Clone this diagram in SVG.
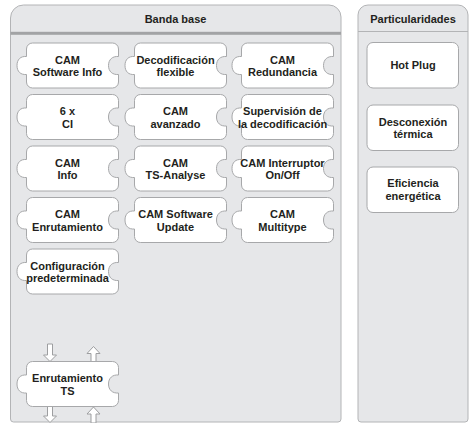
<svg xmlns="http://www.w3.org/2000/svg" xmlns:xlink="http://www.w3.org/1999/xlink" width="471" height="423" viewBox="0 0 471 423">
<style>
.panel{fill:#e6e7e9;stroke:#b3b4b6;stroke-width:1}
.pc{fill:#ffffff;stroke:#a7a8aa;stroke-width:1}
.box{fill:#ffffff;stroke:#a7a8aa;stroke-width:1}
.t{font-family:"Liberation Sans",Arial,sans-serif;font-weight:bold;font-size:11px;fill:#231f20;text-anchor:middle}
.arr{fill:#ffffff;stroke:#9d9ea0;stroke-width:1}
</style>
<defs>
<path id="piece" d="M6,0 H86 A6,6 0 0 1 92,6 V13.5 C86,13 82,16.5 82,22.5 C82,28.5 86,32 92,31.5 V39 A6,6 0 0 1 86,45 H6 A6,6 0 0 1 0,39 V31.5 C-6,32 -9.5,28.5 -9.5,22.5 C-9.5,16.5 -6,13 0,13.5 V6 A6,6 0 0 1 6,0 Z"/>
<path id="adown" d="M-2.5,0 H2.5 V11 H6.5 L0,17.5 L-6.5,11 H-2.5 Z"/>
<path id="aup" d="M0,0 L6.5,7 H2.5 V16 H-2.5 V7 H-6.5 Z"/>
</defs>

<g id="panel-banda-base">
<path class="panel" d="M10.5,419 V18 A13,13 0 0 1 23.5,5 H329 A12,12 0 0 1 341,17 V419 A3,3 0 0 1 338,422 H13.5 A3,3 0 0 1 10.5,419 Z"/>
<rect x="10.5" y="31.8" width="330.5" height="3" fill="#a2a3a5"/>
<text class="t" x="175.5" y="23">Banda base</text>
</g>

<g id="panel-particularidades">
<path class="panel" d="M358,419 V15 A10,10 0 0 1 368,5 H458 A10,10 0 0 1 468,15 V419 A3,3 0 0 1 465,422 H361 A3,3 0 0 1 358,419 Z"/>
<line x1="358" y1="31.5" x2="468" y2="31.5" stroke="#b3b4b6" stroke-width="1"/>
<text class="t" x="413" y="23">Particularidades</text>
</g>

<g id="connectors">
<use xlink:href="#adown" class="arr" x="50" y="344"/>
<use xlink:href="#aup" class="arr" x="93.5" y="346.5"/>
<use xlink:href="#adown" class="arr" x="50" y="405"/>
<use xlink:href="#aup" class="arr" x="93.5" y="407"/>
</g>

<g id="n-cam-software-info"><use xlink:href="#piece" class="pc" x="26.5" y="43"/><text class="t" x="67.5" y="63.5">CAM</text><text class="t" x="67.5" y="76">Software Info</text></g>
<g id="n-decodificacion-flexible"><use xlink:href="#piece" class="pc" x="134.5" y="43"/><text class="t" x="175.5" y="63.5">Decodificación</text><text class="t" x="175.5" y="76">flexible</text></g>
<g id="n-cam-redundancia"><use xlink:href="#piece" class="pc" x="241.5" y="43"/><text class="t" x="282.5" y="63.5">CAM</text><text class="t" x="282.5" y="76">Redundancia</text></g>

<g id="n-6x-ci"><use xlink:href="#piece" class="pc" x="26.5" y="94.5"/><text class="t" x="67.5" y="115">6 x</text><text class="t" x="67.5" y="127.5">CI</text></g>
<g id="n-cam-avanzado"><use xlink:href="#piece" class="pc" x="134.5" y="94.5"/><text class="t" x="175.5" y="115">CAM</text><text class="t" x="175.5" y="127.5">avanzado</text></g>
<g id="n-supervision"><use xlink:href="#piece" class="pc" x="241.5" y="94.5"/><text class="t" x="282.5" y="115">Supervisión de</text><text class="t" x="282.5" y="127.5">la decodificación</text></g>

<g id="n-cam-info"><use xlink:href="#piece" class="pc" x="26.5" y="146"/><text class="t" x="67.5" y="166.5">CAM</text><text class="t" x="67.5" y="179">Info</text></g>
<g id="n-cam-ts-analyse"><use xlink:href="#piece" class="pc" x="134.5" y="146"/><text class="t" x="175.5" y="166.5">CAM</text><text class="t" x="175.5" y="179">TS-Analyse</text></g>
<g id="n-cam-interruptor"><use xlink:href="#piece" class="pc" x="241.5" y="146"/><text class="t" x="282.5" y="166.5">CAM Interruptor</text><text class="t" x="282.5" y="179">On/Off</text></g>

<g id="n-cam-enrutamiento"><use xlink:href="#piece" class="pc" x="26.5" y="197.5"/><text class="t" x="67.5" y="218">CAM</text><text class="t" x="67.5" y="230.5">Enrutamiento</text></g>
<g id="n-cam-software-update"><use xlink:href="#piece" class="pc" x="134.5" y="197.5"/><text class="t" x="175.5" y="218">CAM Software</text><text class="t" x="175.5" y="230.5">Update</text></g>
<g id="n-cam-multitype"><use xlink:href="#piece" class="pc" x="241.5" y="197.5"/><text class="t" x="282.5" y="218">CAM</text><text class="t" x="282.5" y="230.5">Multitype</text></g>

<g id="n-configuracion"><use xlink:href="#piece" class="pc" x="26.5" y="249"/><text class="t" x="67.5" y="269.5">Configuración</text><text class="t" x="67.5" y="282">predeterminada</text></g>

<g id="n-enrutamiento-ts"><use xlink:href="#piece" class="pc" x="26.5" y="361.5"/><text class="t" x="67.5" y="382">Enrutamiento</text><text class="t" x="67.5" y="394.5">TS</text></g>

<g id="n-hot-plug"><rect class="box" x="367" y="42.5" width="91.5" height="45.5" rx="6"/><text class="t" x="413" y="69">Hot Plug</text></g>
<g id="n-desconexion"><rect class="box" x="367" y="105" width="91.5" height="45.5" rx="6"/><text class="t" x="413" y="125.5">Desconexión</text><text class="t" x="413" y="138">térmica</text></g>
<g id="n-eficiencia"><rect class="box" x="367" y="167" width="91.5" height="45.5" rx="6"/><text class="t" x="413" y="187">Eficiencia</text><text class="t" x="413" y="199.5">energética</text></g>
</svg>
